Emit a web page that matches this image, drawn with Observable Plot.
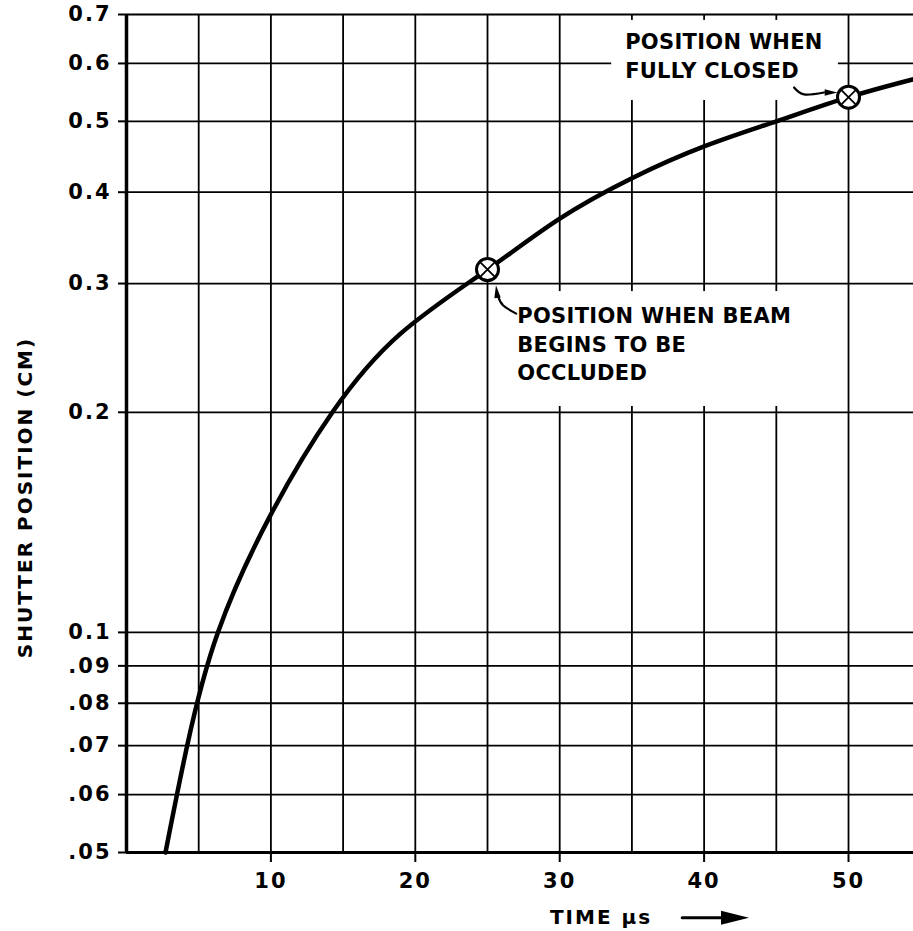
<!DOCTYPE html>
<html><head><meta charset="utf-8">
<script src="https://cdn.jsdelivr.net/npm/d3@7"></script>
<script src="https://cdn.jsdelivr.net/npm/@observablehq/plot@0.6"></script>
<style>
html,body{margin:0;padding:0;background:#fff;}
</style>
</head><body><div id="chart"></div>
<script>
// ---- data ----
const timeTicks = [10, 20, 30, 40, 50];
const timeGrid = [5, 10, 15, 20, 25, 30, 35, 40, 45, 50];
const posTicks = [0.7, 0.6, 0.5, 0.4, 0.3, 0.2, 0.1, 0.09, 0.08, 0.07, 0.06, 0.05];
const posTickLabels = ["0.7", "0.6", "0.5", "0.4", "0.3", "0.2", "0.1", ".09", ".08", ".07", ".06", ".05"];

const curveTime = [2.7, 4.2, 6.33, 10, 14.26, 18.96, 25, 30, 35, 40, 45, 50, 54.5];
const curvePos  = [0.05, 0.07, 0.10, 0.145, 0.20, 0.256, 0.3135, 0.368, 0.418, 0.462, 0.50, 0.5395, 0.571];

const markerTime = [25, 50];
const markerPos = [0.3135, 0.5395];

const xLabel = "TIME µs";
const yLabel = "SHUTTER POSITION (CM)";

const noteText = ["POSITION WHEN BEAM\nBEGINS TO BE\nOCCLUDED", "POSITION WHEN\nFULLY CLOSED"];
const noteTime = [27.06, 34.53];
const notePos = [0.249, 0.6172];

// white patches behind the notes
const patchTime1 = [26.1, 33.6];
const patchTime2 = [46.6, 49.3];
const patchPos1 = [0.2037, 0.534];
const patchPos2 = [0.2925, 0.6871];

// leader arrows (shaft points + head)
const leaderATime = [26.99, 26.09, 25.74];
const leaderAPos  = [0.2729, 0.2799, 0.2879];
const leaderBTime = [46.23, 46.92, 48.3];
const leaderBPos  = [0.5562, 0.5442, 0.5476];
const headTime = [25.64, 48.79];
const headPos  = [0.2925, 0.5476];
const headAngle = [-97, 0];

// arrow next to x label
const axisArrowTime = [38.48, 41.25];
const axisArrowPos = [0.0407, 0.0407];
const axisHeadTime = [42.14];
const axisHeadPos = [0.0407];

// ---- chart ----
const posLabel = new Map(posTicks.map((d, i) => [d, posTickLabels[i]]));
const headSymbol = {
  draw(ctx, size) {
    const s = Math.sqrt(size);
    ctx.moveTo(s, 0);
    ctx.lineTo(-s, -s * 0.5);
    ctx.lineTo(-s, s * 0.5);
    ctx.closePath();
  }
};

const chart = Plot.plot({
  width: 913,
  height: 931,
  marginLeft: 126,
  marginRight: 0,
  marginTop: 14,
  marginBottom: 79,
  x: {domain: [0, 54.5], axis: null},
  y: {type: "log", domain: [0.05, 0.7], axis: null},
  style: {fontFamily: "DejaVu Sans", fontSize: "21px", fontWeight: "bold", letterSpacing: "2px", background: "white", color: "black", overflow: "visible"},
  marks: [
    Plot.gridX(timeGrid, {stroke: "black", strokeOpacity: 1, strokeWidth: 1.8}),
    Plot.gridY(posTicks, {stroke: "black", strokeOpacity: 1, strokeWidth: 1.8}),
    Plot.rect([0, 1], {x1: patchTime1, x2: patchTime2, y1: patchPos1, y2: patchPos2, fill: "white"}),
    Plot.ruleX([0], {stroke: "black", strokeWidth: 3.5}),
    Plot.ruleY([0.05], {stroke: "black", strokeWidth: 3}),
    Plot.axisY(posTicks, {tickSize: 8, tickPadding: 7, tickFormat: d => posLabel.get(d), fontSize: 21, fontWeight: "bold", strokeWidth: 2, label: null}),
    Plot.axisX(timeTicks, {tickSize: 10, tickPadding: 11, tickFormat: d => String(d), fontSize: 21, fontWeight: "bold", strokeWidth: 2, label: null}),
    Plot.line(curveTime, {x: curveTime, y: curvePos, curve: "natural", stroke: "black", strokeWidth: 4.5}),
    Plot.dot(markerTime, {x: markerTime, y: markerPos, r: 11, fill: "white", stroke: "black", strokeWidth: 3}),
    Plot.dot(markerTime, {x: markerTime, y: markerPos, r: 7, symbol: "times", stroke: "black", strokeWidth: 1.8}),
    Plot.text(noteText, {x: noteTime, y: notePos, text: d => d, textAnchor: "start", lineAnchor: "middle", lineHeight: 1.36, fontSize: 21, fontWeight: "bold"}),
    Plot.line(leaderATime, {x: leaderATime, y: leaderAPos, curve: "natural", stroke: "black", strokeWidth: 2.2}),
    Plot.line(leaderBTime, {x: leaderBTime, y: leaderBPos, curve: "natural", stroke: "black", strokeWidth: 2.2}),
    Plot.dot(headTime, {x: headTime, y: headPos, rotate: headAngle, symbol: headSymbol, r: 3.6, fill: "black", stroke: "none"}),
    Plot.text([yLabel], {frameAnchor: "left", textAnchor: "middle", lineAnchor: "middle", rotate: -90, dx: -101, dy: 64, fontSize: 20, fontWeight: "bold", text: d => d}),
    Plot.text([xLabel], {frameAnchor: "bottom", textAnchor: "middle", lineAnchor: "middle", dx: 81, dy: 65, fontSize: 20, fontWeight: "bold", text: d => d}),
    Plot.line(axisArrowTime, {x: axisArrowTime, y: axisArrowPos, stroke: "black", strokeWidth: 3}),
    Plot.dot(axisHeadTime, {x: axisHeadTime, y: axisHeadPos, symbol: headSymbol, r: 7.9, fill: "black", stroke: "none"})
  ]
});
// tighter letter spacing for the two notes
d3.select(chart).selectAll("text")
  .filter(function() { return noteText.some(t => this.textContent.startsWith(t.split("\n")[0])); })
  .style("letter-spacing", "0.3px");
document.getElementById("chart").append(chart);
</script>
</body></html>
